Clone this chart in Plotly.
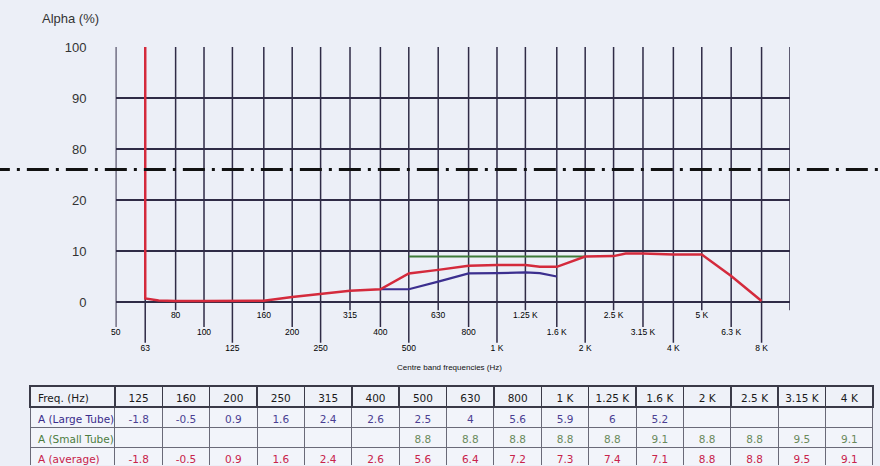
import numpy as np
import plotly.graph_objects as go

# one-third octave bands drawn on the x axis
bands = [50, 63, 80, 100, 125, 160, 200, 250, 315, 400, 500, 630, 800,
         1000, 1250, 1600, 2000, 2500, 3150, 4000, 5000, 6300, 8000]
band_labels = ["50", "63", "80", "100", "125", "160", "200", "250", "315", "400",
               "500", "630", "800", "1 K", "1.25 K", "1.6 K", "2 K", "2.5 K",
               "3.15 K", "4 K", "5 K", "6.3 K", "8 K"]

# curves (alpha in %)
avg_freq = [63, 63, 70, 80, 100, 125, 160, 200, 250, 315, 400, 500, 630, 800,
            1000, 1250, 1400, 1600, 2000, 2500, 2750, 3150, 4000, 5000, 6300, 8000]
avg_alpha = [100, 0.7, 0.3, 0.2, 0.2, 0.2, 0.25, 1.0, 1.6, 2.2, 2.5, 5.6, 6.3, 7.1,
             7.25, 7.25, 6.9, 6.9, 8.9, 9.0, 9.5, 9.5, 9.3, 9.3, 5.1, 0.2]
large_freq = [400, 500, 630, 800, 1000, 1250, 1400, 1500, 1600]
large_alpha = [2.5, 2.5, 4.0, 5.6, 5.65, 5.8, 5.65, 5.3, 5.0]
small_freq = [500, 2000]
small_alpha = [8.9, 8.9]

# table
tbl_freq = ["125", "160", "200", "250", "315", "400", "500", "630", "800",
            "1 K", "1.25 K", "1.6 K", "2 K", "2.5 K", "3.15 K", "4 K"]
tbl_rows = ["A (Large Tube)", "A (Small Tube)", "A (average)"]
tbl_large = ["-1.8", "-0.5", "0.9", "1.6", "2.4", "2.6", "2.5", "4", "5.6",
             "5.9", "6", "5.2", "", "", "", ""]
tbl_small = ["", "", "", "", "", "", "8.8", "8.8", "8.8",
             "8.8", "8.8", "9.1", "8.8", "8.8", "9.5", "9.1"]
tbl_avg = ["-1.8", "-0.5", "0.9", "1.6", "2.4", "2.6", "5.6", "6.4", "7.2",
           "7.3", "7.4", "7.1", "8.8", "8.8", "9.5", "9.1"]

y_labels = ["0", "10", "20", "80", "90", "100"]

BG = "#eceff7"
GRID = "#2f2b46"
RED = "#d42a3c"
BLUE = "#3c2f8f"
GREEN = "#3f7a3a"


def brk(v):
    # broken y axis: 0-20 then 80-100
    v = np.asarray(v, dtype=float)
    return np.where(v <= 20, v / 10, 3 + (v - 80) / 10)


def nb(s):
    return s.replace(" ", "\u00a0")


fig = go.Figure()

fig.add_trace(go.Scatter(x=small_freq, y=brk(small_alpha), mode="lines",
                         line=dict(color=GREEN, width=2), hoverinfo="skip"))
fig.add_trace(go.Scatter(x=large_freq, y=brk(large_alpha), mode="lines",
                         line=dict(color=BLUE, width=2.2), hoverinfo="skip"))
fig.add_trace(go.Scatter(x=avg_freq, y=brk(avg_alpha), mode="lines",
                         line=dict(color=RED, width=2.5), hoverinfo="skip"))

# staggered band labels, each gridline runs down to its label
line_end = [-0.49, -0.80, -0.16]
label_row = [-0.61, -0.92, -0.27]
for i, f in enumerate(bands + [10000]):
    fig.add_shape(type="line", xref="x", yref="y", x0=f, x1=f,
                  y0=line_end[i % 3], y1=5, line=dict(color=GRID, width=1.5),
                  layer="below")
fig.add_trace(go.Scatter(
    x=bands, y=[label_row[i % 3] for i in range(len(bands))],
    mode="text", text=band_labels, cliponaxis=False,
    textfont=dict(family="Liberation Sans", size=8.5, color="#000"),
    hoverinfo="skip"))

# axis break marker
fig.add_shape(type="line", xref="paper", yref="y", x0=-0.05, x1=1.05,
              y0=2.6, y1=2.6, line=dict(color="#111", width=3,
                                         dash="22px,7px,3px,7px"))

fig.add_annotation(text="Centre band frequencies (Hz)", xref="paper", yref="y",
                   x=0.498, y=-1.29, showarrow=False,
                   font=dict(family="Liberation Sans", size=8, color="#111"))
fig.add_annotation(text="Alpha (%)", xref="paper", yref="paper",
                   x=0.012, y=1.069, xanchor="left", yanchor="middle",
                   showarrow=False,
                   font=dict(family="Liberation Sans", size=13, color="#333"))

row_cols = ["#3a2d8c", "#4d7d3f", "#c8234a"]
val_cols = ["#4b3f93", "#6a8a5c", "#c8234a"]
fig.add_trace(go.Table(
    domain=dict(x=[0, 1], y=[0, 0.1909]),
    columnwidth=[90] + [50.2] * len(tbl_freq),
    header=dict(values=["Freq. (Hz)"] + [nb(f) for f in tbl_freq],
                align=["left"] + ["center"] * len(tbl_freq),
                fill_color="#eef1f8", height=21,
                line=dict(color="#3a3a48", width=1.5),
                font=dict(family="DejaVu Sans", size=10.5, color="#1a1a1a")),
    cells=dict(values=[[nb(r) for r in tbl_rows]]
               + [[l, s, a] for l, s, a in zip(tbl_large, tbl_small, tbl_avg)],
               align=["left"] + ["center"] * len(tbl_freq),
               fill_color="#f2f4fa", height=20,
               line=dict(color="#6a6a78", width=1),
               font=dict(family="DejaVu Sans", size=10.5,
                         color=[row_cols] + [val_cols] * len(tbl_freq)))))

fig.update_layout(
    width=880, height=466,
    margin=dict(l=30, r=7, t=47, b=0),
    paper_bgcolor=BG, plot_bgcolor=BG,
    showlegend=False,
    xaxis=dict(type="log", range=[np.log10(49.9), np.log10(10000)],
               domain=[0.1015, 0.9015], showgrid=False, zeroline=False,
               showticklabels=False, ticks=""),
    yaxis=dict(range=[-1.5, 5], domain=[0.2088, 1],
               tickvals=list(range(len(y_labels))), ticktext=y_labels,
               showgrid=True, gridcolor=GRID, gridwidth=1.5, zeroline=False,
               ticklabelstandoff=28,
               tickfont=dict(family="Liberation Sans", size=13, color="#333")),
)

fig.write_html("out.html", config={"displayModeBar": False},
               post_script="document.body.style.margin='0';")
